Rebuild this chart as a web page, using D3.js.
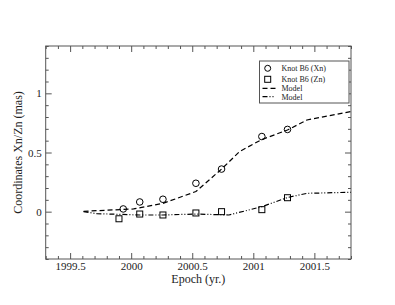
<!DOCTYPE html>
<html><head><meta charset="utf-8">
<script src="https://cdn.jsdelivr.net/npm/d3@7"></script>
<style>body{margin:0;background:#fff}svg{display:block}</style>
</head><body>
<script>
const xnEpoch = [1999.935, 2000.07, 2000.26, 2000.53, 2000.74, 2001.07, 2001.28];
const xnValue = [0.023, 0.082, 0.105, 0.24, 0.36, 0.635, 0.695];
const znEpoch = [1999.90, 2000.07, 2000.26, 2000.53, 2000.74, 2001.07, 2001.28];
const znValue = [-0.06, -0.02, -0.028, -0.011, 0.0, 0.017, 0.118];
const modelXnEpoch = [1999.61, 2000.02, 2000.26, 2000.53, 2000.74, 2000.89, 2001.07, 2001.28, 2001.44, 2001.8];
const modelXnValue = [0.003, 0.023, 0.07, 0.17, 0.36, 0.51, 0.61, 0.69, 0.775, 0.846];
const modelZnEpoch = [1999.61, 1999.72, 2000.07, 2000.26, 2000.53, 2000.8, 2001.07, 2001.28, 2001.44, 2001.8];
const modelZnValue = [0.0, -0.017, -0.028, -0.028, -0.02, -0.028, 0.042, 0.12, 0.155, 0.164];
const xTicks = [1999.5, 2000, 2000.5, 2001, 2001.5];
const yTicks = [0, 0.5, 1];
const legendLabels = ["Knot B6 (Xn)", "Knot B6 (Zn)", "Model", "Model"];

const W = 395, H = 305;
const m = {left: 45.7, right: 351, top: 46, bottom: 259};
const svg = d3.select("body").append("svg").attr("width", W).attr("height", H);
const x = d3.scaleLinear().domain([1999.3, 2001.8]).range([m.left, m.right]);
const y = d3.scaleLinear().domain([-0.4, 1.4]).range([m.bottom, m.top]);
const font = "'Liberation Serif', 'Times New Roman', serif";
const frameCol = "#555";

const minorX = d3.range(1999.3, 2001.8001, 0.1).map(v => +v.toFixed(2));
const minorY = d3.range(-0.4, 1.4001, 0.1).map(v => +v.toFixed(2));
const isMajor = v => Math.abs(v * 2 - Math.round(v * 2)) < 1e-6;

function axisG(axis, tr) {
  const g = svg.append("g").attr("transform", tr).call(axis);
  g.select(".domain").remove();
  g.selectAll("line").attr("stroke", frameCol);
  g.selectAll("text").attr("font-family", font).attr("font-size", 11).attr("fill", "#222");
  return g;
}
// minor ticks (inward)
axisG(d3.axisBottom(x).tickValues(minorX.filter(v => !isMajor(v))).tickSize(-3).tickFormat(""), `translate(0,${m.bottom})`);
axisG(d3.axisTop(x).tickValues(minorX.filter(v => !isMajor(v))).tickSize(-3).tickFormat(""), `translate(0,${m.top})`);
axisG(d3.axisLeft(y).tickValues(minorY.filter(v => !isMajor(v))).tickSize(-3).tickFormat(""), `translate(${m.left},0)`);
axisG(d3.axisRight(y).tickValues(minorY.filter(v => !isMajor(v))).tickSize(-3).tickFormat(""), `translate(${m.right},0)`);
// major ticks
axisG(d3.axisBottom(x).tickValues(xTicks).tickSize(-6).tickPadding(3).tickFormat(d => d3.format("")(d)), `translate(0,${m.bottom})`);
axisG(d3.axisTop(x).tickValues(xTicks).tickSize(-6).tickFormat(""), `translate(0,${m.top})`);
axisG(d3.axisLeft(y).tickValues(yTicks).tickSize(-6).tickPadding(4).tickFormat(d => d3.format("")(d)), `translate(${m.left},0)`);
axisG(d3.axisRight(y).tickValues(yTicks).tickSize(-6).tickFormat(""), `translate(${m.right},0)`);

svg.append("rect").attr("x", m.left).attr("y", m.top).attr("width", m.right - m.left).attr("height", m.bottom - m.top)
  .attr("fill", "none").attr("stroke", frameCol).attr("stroke-width", 1);

const line = d3.line().x(d => x(d[0])).y(d => y(d[1]));
const dashXn = "5,3", dashZn = "5,2,1,2,1,2";
svg.append("path").datum(modelXnEpoch.map((e, i) => [e, modelXnValue[i]])).attr("d", line)
  .attr("fill", "none").attr("stroke", "#000").attr("stroke-width", 1.2).attr("stroke-dasharray", dashXn);
svg.append("path").datum(modelZnEpoch.map((e, i) => [e, modelZnValue[i]])).attr("d", line)
  .attr("fill", "none").attr("stroke", "#000").attr("stroke-width", 1.2).attr("stroke-dasharray", dashZn);

svg.append("g").selectAll("circle").data(xnEpoch.map((e, i) => [e, xnValue[i]])).join("circle")
  .attr("cx", d => x(d[0])).attr("cy", d => y(d[1])).attr("r", 3.3)
  .attr("fill", "none").attr("stroke", "#000").attr("stroke-width", 1);
svg.append("g").selectAll("rect").data(znEpoch.map((e, i) => [e, znValue[i]])).join("rect")
  .attr("x", d => x(d[0]) - 3).attr("y", d => y(d[1]) - 3).attr("width", 6).attr("height", 6)
  .attr("fill", "none").attr("stroke", "#000").attr("stroke-width", 1);

// axis titles
svg.append("text").attr("x", (m.left + m.right) / 2).attr("y", 283).attr("text-anchor", "middle")
  .attr("font-family", font).attr("font-size", 12).attr("fill", "#222").text("Epoch (yr.)");
svg.append("text").attr("transform", `translate(22,${(m.top + m.bottom) / 2}) rotate(-90)`).attr("text-anchor", "middle")
  .attr("font-family", font).attr("font-size", 12).attr("fill", "#222").text("Coordinates Xn/Zn (mas)");

// legend
const lg = svg.append("g").attr("transform", "translate(259.5,61)");
lg.append("rect").attr("width", 89.5).attr("height", 42).attr("fill", "#fff").attr("stroke", frameCol).attr("stroke-width", 1);
const rowY = [7.3, 18.3, 27.3, 35.7];
lg.append("circle").attr("cx", 8.2).attr("cy", rowY[0]).attr("r", 3).attr("fill", "none").attr("stroke", "#000");
lg.append("rect").attr("x", 5.2).attr("y", rowY[1] - 3).attr("width", 6).attr("height", 6).attr("fill", "none").attr("stroke", "#000");
lg.append("line").attr("x1", 3).attr("x2", 16).attr("y1", rowY[2]).attr("y2", rowY[2]).attr("stroke", "#000").attr("stroke-width", 1.2).attr("stroke-dasharray", dashXn);
lg.append("line").attr("x1", 3).attr("x2", 16).attr("y1", rowY[3]).attr("y2", rowY[3]).attr("stroke", "#000").attr("stroke-width", 1.2).attr("stroke-dasharray", dashZn);
lg.selectAll("text.l").data(legendLabels).join("text").attr("class", "l")
  .attr("x", 22).attr("y", (d, i) => rowY[i]).attr("dy", "0.35em")
  .attr("font-family", font).attr("font-size", 8).attr("fill", "#222").text(d => d);
</script>
</body></html>
